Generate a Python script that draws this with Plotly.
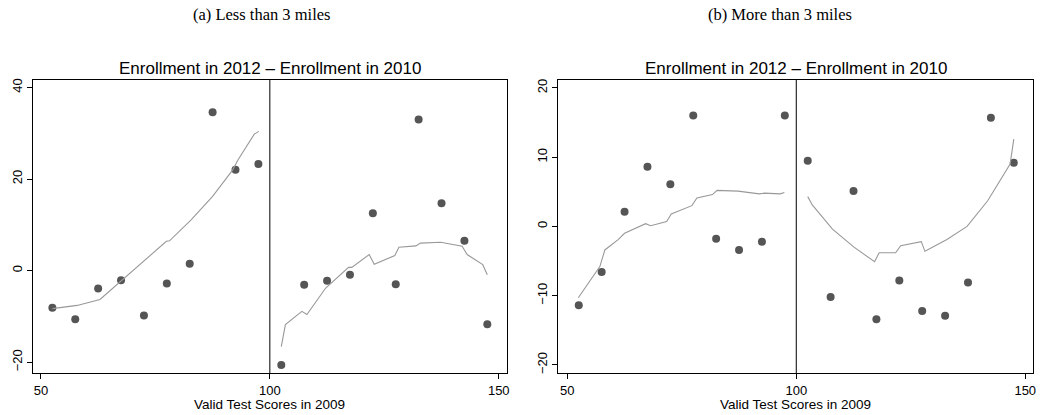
import plotly.graph_objects as go

W, H = 1043, 415

# ---------- Panel (a): Less than 3 miles ----------
a_bin_x = [52.5, 57.5, 62.5, 67.5, 72.5, 77.5, 82.5, 87.5, 92.5, 97.5,
           102.5, 107.5, 112.5, 117.5, 122.5, 127.5, 132.5, 137.5, 142.5, 147.5]
a_bin_y = [-8.1, -10.6, -3.9, -2.1, -9.8, -2.8, 1.5, 34.6, 22.0, 23.3,
           -20.6, -3.1, -2.2, -0.9, 12.5, -3.0, 33.0, 14.7, 6.5, -11.7]

a_fit_left_x = [52.5, 57.9, 62.9, 67.5, 72.7, 77.4, 78.1, 82.8, 87.5, 91.9, 93.0, 96.6, 97.6]
a_fit_left_y = [-8.3, -7.6, -6.3, -2.3, 2.4, 6.4, 6.5, 11.1, 16.2, 22.0, 24.1, 29.8, 30.4]
a_fit_right_x = [102.5, 103.4, 107.0, 108.1, 112.2, 117.2, 117.9, 121.7, 122.8, 127.3,
                 128.2, 131.9, 132.9, 137.3, 142.0, 143.1, 146.5, 147.5]
a_fit_right_y = [-16.6, -11.8, -8.9, -9.6, -3.8, 0.7, 0.7, 3.5, 1.4, 3.3,
                 5.1, 5.4, 6.0, 6.2, 5.3, 3.5, 1.3, -0.9]

# ---------- Panel (b): More than 3 miles ----------
b_bin_x = [52.5, 57.5, 62.5, 67.5, 72.5, 77.5, 82.5, 87.5, 92.5, 97.5,
           102.5, 107.5, 112.5, 117.5, 122.5, 127.5, 132.5, 137.5, 142.5, 147.5]
b_bin_y = [-11.4, -6.6, 2.1, 8.6, 6.1, 16.0, -1.8, -3.4, -2.2, 16.0,
           9.5, -10.2, 5.1, -13.4, -7.8, -12.2, -12.9, -8.1, 15.7, 9.2]

b_fit_left_x = [52.4, 57.1, 58.2, 61.1, 62.5, 67.1, 68.2, 71.7, 72.7, 77.2,
                78.3, 81.7, 82.7, 87.3, 91.9, 93.0, 96.5, 97.4]
b_fit_left_y = [-10.3, -5.8, -3.4, -1.9, -1.0, 0.4, 0.1, 0.7, 1.8, 3.0,
                4.1, 4.6, 5.2, 5.1, 4.7, 4.8, 4.7, 4.9]
b_fit_right_x = [102.5, 103.5, 107.9, 112.6, 117.1, 118.1, 121.7, 122.8, 127.3, 128.1,
                 132.9, 137.3, 141.8, 143.5, 146.7, 147.5]
b_fit_right_y = [4.3, 3.1, -0.4, -3.0, -5.1, -3.8, -3.8, -2.8, -2.2, -3.6,
                 -1.9, 0.0, 3.7, 5.6, 9.0, 12.6]

x_ticks = [50, 100, 150]
a_y_ticks = [-20, 0, 20, 40]
b_y_ticks = [-20, -10, 0, 10, 20]

panel_titles = ["(a) Less than 3 miles", "(b) More than 3 miles"]
plot_title = "Enrollment in 2012 \u2013 Enrollment in 2010"
x_title = "Valid Test Scores in 2009"

MARKER_COLOR = "#555555"
LINE_COLOR = "#999999"

fig = go.Figure()

def add_panel(xa, ya, bx, by, lx, ly, rx, ry):
    fig.add_trace(go.Scatter(x=bx, y=by, mode="markers", xaxis=xa, yaxis=ya,
                             marker=dict(color=MARKER_COLOR, size=8, line=dict(width=0)),
                             showlegend=False, hoverinfo="skip"))
    fig.add_trace(go.Scatter(x=lx, y=ly, mode="lines", xaxis=xa, yaxis=ya,
                             line=dict(color=LINE_COLOR, width=1.1),
                             showlegend=False, hoverinfo="skip"))
    fig.add_trace(go.Scatter(x=rx, y=ry, mode="lines", xaxis=xa, yaxis=ya,
                             line=dict(color=LINE_COLOR, width=1.1),
                             showlegend=False, hoverinfo="skip"))

add_panel("x", "y", a_bin_x, a_bin_y, a_fit_left_x, a_fit_left_y, a_fit_right_x, a_fit_right_y)
add_panel("x2", "y2", b_bin_x, b_bin_y, b_fit_left_x, b_fit_left_y, b_fit_right_x, b_fit_right_y)

def px_x(p):
    return p / W

def px_y(p):
    return 1 - p / H

top, bottom = 79, 374
tick_font = dict(family="Liberation Sans, Arial, sans-serif", size=13, color="black")

axis_common = dict(showline=True, linecolor="black", linewidth=1, mirror=True,
                   ticks="outside", ticklen=5, tickwidth=1, tickcolor="black",
                   showgrid=False, zeroline=False, tickfont=tick_font)

fig.update_layout(
    width=W, height=H,
    margin=dict(l=0, r=0, t=0, b=0),
    paper_bgcolor="white", plot_bgcolor="white",
    xaxis=dict(domain=[px_x(33), px_x(508)], range=[48.25, 151.7], tickvals=x_ticks,
               anchor="y", **axis_common),
    yaxis=dict(domain=[px_y(bottom), px_y(top)], range=[-22.4, 41.7], tickvals=a_y_ticks,
               tickangle=-90, anchor="x", **axis_common),
    xaxis2=dict(domain=[px_x(560), px_x(1036)], range=[48.05, 151.7], tickvals=x_ticks,
                anchor="y2", **axis_common),
    yaxis2=dict(domain=[px_y(bottom), px_y(top)], range=[-21.2, 21.2], tickvals=b_y_ticks,
                tickangle=-90, anchor="x2", **axis_common),
)

# vertical cutoff lines
for xr, yr in [("x", "y domain"), ("x2", "y2 domain")]:
    fig.add_shape(type="line", xref=xr, yref=yr, x0=100, x1=100, y0=0, y1=1,
                  line=dict(color="black", width=1))

serif = dict(family="Liberation Serif, DejaVu Serif, serif", size=16.5, color="black")
sans_title = dict(family="Liberation Sans, Arial, sans-serif", size=17, color="black")
sans_x = dict(family="Liberation Sans, Arial, sans-serif", size=13.5, color="black")

centers = [(33 + 508) / 2, (560 + 1036) / 2]
for i, cx in enumerate(centers):
    fig.add_annotation(text=panel_titles[i], x=px_x(262 if i == 0 else 782), y=px_y(14),
                       xref="paper", yref="paper", showarrow=False, font=serif,
                       xanchor="center", yanchor="middle")
    fig.add_annotation(text=plot_title, x=px_x(cx), y=px_y(68),
                       xref="paper", yref="paper", showarrow=False, font=sans_title,
                       xanchor="center", yanchor="middle")
    fig.add_annotation(text=x_title, x=px_x(cx), y=px_y(405),
                       xref="paper", yref="paper", showarrow=False, font=sans_x,
                       xanchor="center", yanchor="middle")

fig.write_html("out.html")
